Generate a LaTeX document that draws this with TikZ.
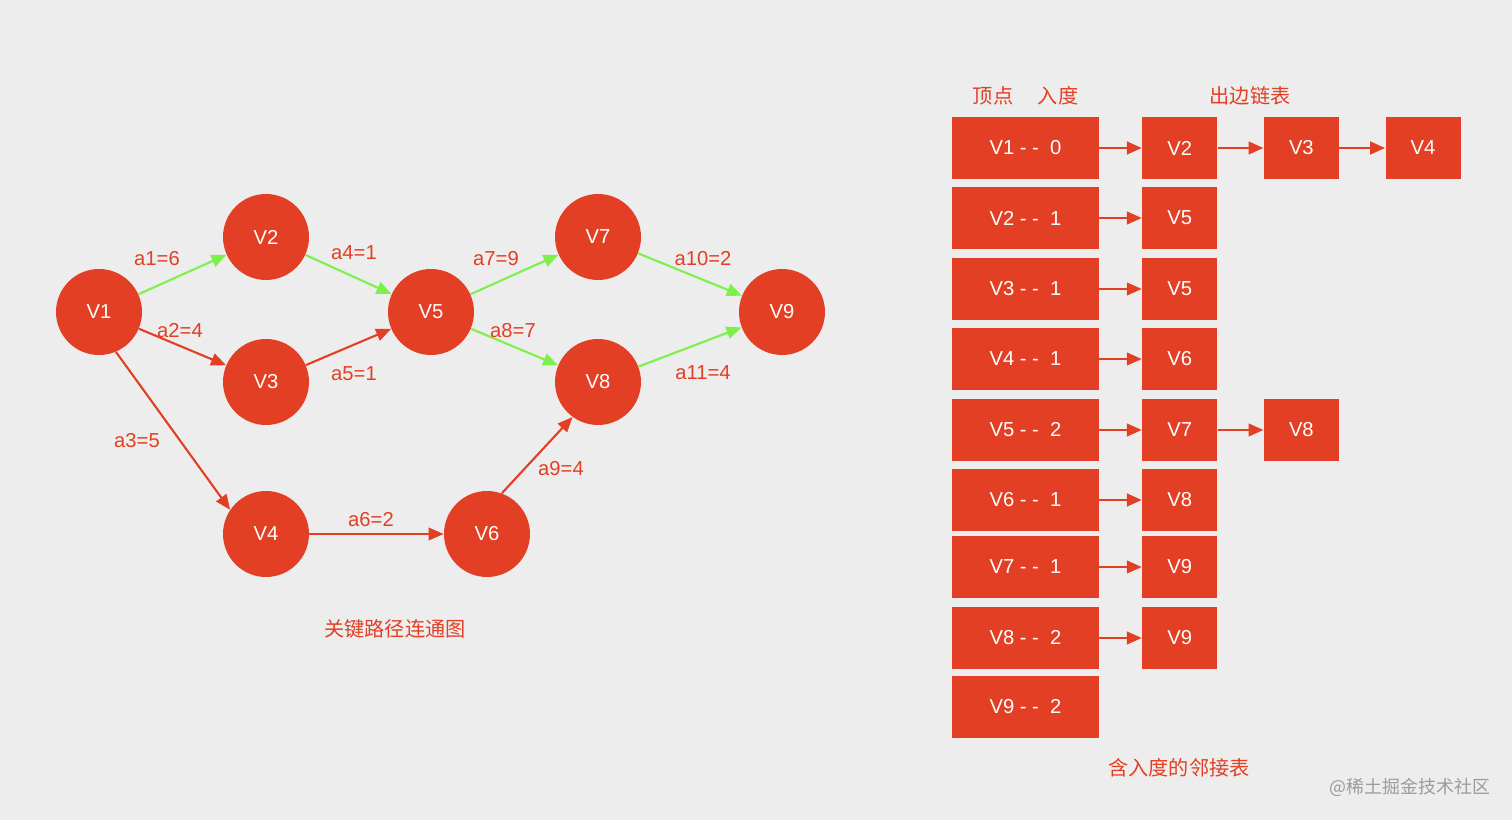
\documentclass[tikz,border=0pt]{standalone}
\usepackage{fontspec}
\setmainfont{Liberation Sans}
\newfontfamily\cjk{Noto Sans CJK SC}
\usetikzlibrary{arrows.meta,positioning}
\definecolor{nodered}{RGB}{226,63,36}
\definecolor{pathgreen}{RGB}{125,240,75}
\definecolor{paper}{RGB}{237,237,237}
\definecolor{markgray}{RGB}{155,155,155}

\begin{document}
\begin{tikzpicture}[x=0.02cm,y=-0.02cm,>={Triangle[length=0.3cm,width=0.25cm]},font=\fontsize{11.5}{13}\selectfont]
\tikzstyle{vertex}=[circle,fill=nodered,text=white,minimum size=1.72cm,inner sep=0pt]
\tikzstyle{headbox}=[rectangle,fill=nodered,text=white,minimum width=2.94cm,minimum height=1.24cm,inner sep=0pt]
\tikzstyle{listbox}=[rectangle,fill=nodered,text=white,minimum width=1.5cm,minimum height=1.24cm,inner sep=0pt]
\tikzstyle{weight}=[text=nodered,inner sep=1pt]
\tikzstyle{caption}=[text=nodered,font=\cjk\fontsize{11.5}{13}\selectfont]
\tikzstyle{crit}=[->,line width=1.2pt,pathgreen]
\tikzstyle{plain}=[->,line width=1.2pt,nodered]
\tikzstyle{link}=[->,line width=1.6pt,nodered]
\fill[paper] (0,0) rectangle (1512,820);
\useasboundingbox (0,0) rectangle (1512,820);
% AOE network
\node[vertex] (v1) at (99,312) {V1};
\node[vertex] (v2) at (266,237) {V2};
\node[vertex] (v3) at (266,382) {V3};
\node[vertex] (v4) at (266,534) {V4};
\node[vertex] (v5) at (431,312) {V5};
\node[vertex] (v6) at (487,534) {V6};
\node[vertex] (v7) at (598,237) {V7};
\node[vertex] (v8) at (598,382) {V8};
\node[vertex] (v9) at (782,312) {V9};
\draw[crit] (v1)--(v2); \draw[plain] (v1)--(v3); \draw[plain] (v1.293)--(v4.146);
\draw[crit] (v2)--(v5); \draw[plain] (v3)--(v5); \draw[plain] (v4)--(v6);
\draw[crit] (v5)--(v7); \draw[crit] (v5)--(v8); \draw[plain] (v6.70)--(v8.234);
\draw[crit] (v7)--(v9); \draw[crit] (v8)--(v9);
\node[weight] (w1) at (157,259) {a1=6};
\node[weight] (w2) at (180,331) {a2=4};
\node[weight] (w3) at (137,441) {a3=5};
\node[weight] (w4) at (354,253) {a4=1};
\node[weight] (w5) at (354,374) {a5=1};
\node[weight] (w6) at (371,520) {a6=2};
\node[weight] (w7) at (496,259) {a7=9};
\node[weight] (w8) at (513,331) {a8=7};
\node[weight] (w9) at (561,469) {a9=4};
\node[weight] (w10) at (703,259) {a10=2};
\node[weight] (w11) at (703,373) {a11=4};
\node[caption] (cap1) at (395,629) {关键路径连通图};
% adjacency list with in-degree
\node[caption] (hv) at (993,96) {顶点};
\node[caption] (hd) at (1058,96) {入度};
\node[caption] (he) at (1250,96) {出边链表};
\node[headbox] (h1) at (1025.5,148) {V1 - -\ \ 0};
\node[headbox] (h2) at (1025.5,218) {V2 - -\ \ 1};
\node[headbox] (h3) at (1025.5,289) {V3 - -\ \ 1};
\node[headbox] (h4) at (1025.5,359) {V4 - -\ \ 1};
\node[headbox] (h5) at (1025.5,430) {V5 - -\ \ 2};
\node[headbox] (h6) at (1025.5,500) {V6 - -\ \ 1};
\node[headbox] (h7) at (1025.5,567) {V7 - -\ \ 1};
\node[headbox] (h8) at (1025.5,638) {V8 - -\ \ 2};
\node[headbox] (h9) at (1025.5,707) {V9 - -\ \ 2};
\node[listbox,right=0.85cm of h1] (e12) {V2};
\node[listbox,right=0.92cm of e12] (e13) {V3};
\node[listbox,right=0.92cm of e13] (e14) {V4};
\node[listbox,right=0.85cm of h2] (e25) {V5};
\node[listbox,right=0.85cm of h3] (e35) {V5};
\node[listbox,right=0.85cm of h4] (e46) {V6};
\node[listbox,right=0.85cm of h5] (e57) {V7};
\node[listbox,right=0.92cm of e57] (e58) {V8};
\node[listbox,right=0.85cm of h6] (e68) {V8};
\node[listbox,right=0.85cm of h7] (e79) {V9};
\node[listbox,right=0.85cm of h8] (e89) {V9};
\draw[link] (h1)--(e12); \draw[link] (e12)--(e13); \draw[link] (e13)--(e14);
\draw[link] (h2)--(e25); \draw[link] (h3)--(e35); \draw[link] (h4)--(e46);
\draw[link] (h5)--(e57); \draw[link] (e57)--(e58);
\draw[link] (h6)--(e68); \draw[link] (h7)--(e79); \draw[link] (h8)--(e89);
\node[caption] (cap2) at (1179,768) {含入度的邻接表};
\node[text=markgray,font=\cjk\fontsize{10.2}{12}\selectfont] (mark) at (1410,787) {@稀土掘金技术社区};
\end{tikzpicture}
\end{document}
